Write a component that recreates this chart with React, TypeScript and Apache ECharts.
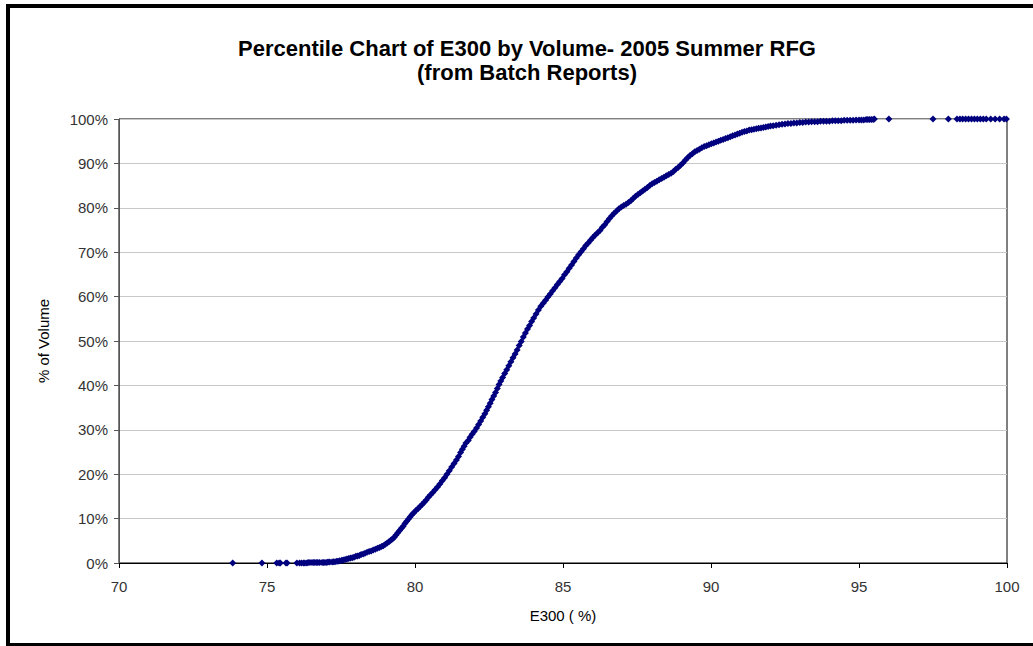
import React, { useEffect, useRef } from "react";
import * as echarts from "echarts";

const titleLines = ["Percentile Chart of E300 by Volume- 2005 Summer RFG", "(from Batch Reports)"];
const xAxisName = "E300 ( %)";
const yAxisName = "% of Volume";

// Lower tail: [E300, % of volume]
const lowTail: [number, number][] = [
  [73.84, 0], [74.83, 0], [75.33, 0], [75.41, 0], [75.45, 0], [75.64, 0], [75.68, 0],
  [76.01, 0], [76.1, 0], [76.17, 0], [76.24, 0], [76.28, 0], [76.35, 0], [76.39, 0.1],
  [76.45, 0.1], [76.52, 0.1], [76.58, 0.1], [76.62, 0.1], [76.68, 0.1], [76.72, 0.1],
  [76.78, 0.1], [76.86, 0.1], [76.91, 0.1], [76.96, 0.1], [77.02, 0.1], [77.06, 0.2],
  [77.12, 0.2], [77.2, 0.2], [77.25, 0.3], [77.3, 0.3], [77.36, 0.4], [77.4, 0.4],
  [77.46, 0.5], [77.53, 0.6], [77.58, 0.7], [77.64, 0.8], [77.7, 0.9], [77.76, 1.0],
  [77.82, 1.1], [77.88, 1.2], [77.94, 1.3], [78.0, 1.5], [78.06, 1.6], [78.12, 1.7],
  [78.18, 1.9], [78.25, 2.0], [78.31, 2.2], [78.38, 2.4], [78.45, 2.6], [78.52, 2.7],
  [78.59, 2.9], [78.66, 3.1], [78.73, 3.3], [78.8, 3.5], [78.87, 3.7], [78.93, 3.9],
  [79.0, 4.2], [79.06, 4.5], [79.12, 4.8], [79.18, 5.1], [79.24, 5.4], [79.3, 5.8],
  [79.36, 6.3], [79.42, 6.8], [79.48, 7.3], [79.54, 7.8], [79.6, 8.3], [79.66, 8.9],
  [79.72, 9.4], [79.78, 9.9], [79.84, 10.4], [79.9, 10.9], [79.96, 11.3], [80.03, 11.8],
  [80.1, 12.2], [80.17, 12.7], [80.24, 13.2], [80.31, 13.7], [80.38, 14.2], [80.45, 14.8],
  [80.52, 15.3], [80.6, 15.9], [80.68, 16.5], [80.76, 17.1], [80.84, 17.8], [80.92, 18.5],
];

// Steep middle section
const rise: [number, number][] = [
  [81.0, 19.2], [81.08, 20.0], [81.16, 20.8], [81.24, 21.6], [81.32, 22.4], [81.4, 23.2],
  [81.47, 24.0], [81.54, 24.9], [81.6, 25.6], [81.66, 26.3], [81.72, 27.0], [81.8, 27.6],
  [81.86, 28.3], [81.93, 29.0], [82.0, 29.6], [82.08, 30.4], [82.15, 31.2], [82.22, 32.0],
  [82.29, 32.8], [82.36, 33.6], [82.42, 34.4], [82.48, 35.2], [82.54, 36.0], [82.6, 36.8],
  [82.66, 37.6], [82.72, 38.4], [82.78, 39.3], [82.84, 40.2], [82.9, 41.0], [82.96, 41.8],
  [83.03, 42.7], [83.1, 43.5], [83.17, 44.4], [83.24, 45.3], [83.31, 46.2], [83.38, 47.1],
  [83.45, 48.0], [83.52, 49.0], [83.59, 49.9], [83.66, 50.9], [83.73, 51.8], [83.8, 52.7],
  [83.87, 53.5], [83.94, 54.4], [84.01, 55.2], [84.09, 56.1], [84.17, 57.0], [84.25, 57.8],
  [84.33, 58.5], [84.41, 59.2], [84.49, 59.9], [84.57, 60.6], [84.65, 61.3], [84.73, 62.0],
  [84.81, 62.7], [84.89, 63.4], [84.97, 64.1], [85.05, 64.9], [85.13, 65.6], [85.21, 66.4],
  [85.29, 67.1], [85.37, 67.9], [85.45, 68.7], [85.53, 69.4], [85.61, 70.1], [85.69, 70.8],
  [85.77, 71.5], [85.85, 72.1], [85.93, 72.7], [86.01, 73.3], [86.09, 73.9], [86.17, 74.4],
  [86.25, 74.9], [86.33, 75.6], [86.41, 76.2], [86.49, 76.9], [86.57, 77.6], [86.65, 78.2],
  [86.73, 78.8], [86.81, 79.3], [86.89, 79.8], [86.97, 80.2],
];

// Upper bend
const upper: [number, number][] = [
  [87.05, 80.5], [87.13, 80.8], [87.21, 81.2], [87.29, 81.6], [87.37, 82.1], [87.45, 82.6],
  [87.53, 83.0], [87.61, 83.4], [87.69, 83.8], [87.77, 84.2], [87.85, 84.6], [87.93, 85.0],
  [88.01, 85.4], [88.09, 85.7], [88.17, 86.0], [88.25, 86.3], [88.33, 86.6], [88.41, 86.9],
  [88.49, 87.2], [88.57, 87.5], [88.65, 87.8], [88.73, 88.2], [88.81, 88.7], [88.89, 89.1],
  [88.97, 89.6], [89.05, 90.1], [89.13, 90.7], [89.21, 91.3], [89.29, 91.8], [89.37, 92.2],
  [89.45, 92.6], [89.53, 92.9], [89.61, 93.2], [89.69, 93.5], [89.77, 93.8], [89.85, 94.0],
  [89.93, 94.2], [90.01, 94.4], [90.09, 94.6], [90.17, 94.8], [90.25, 95.0], [90.33, 95.2],
  [90.41, 95.4], [90.49, 95.6], [90.57, 95.8], [90.65, 96.0], [90.73, 96.2], [90.81, 96.4],
  [90.89, 96.6], [90.97, 96.8], [91.05, 97.0], [91.13, 97.2], [91.21, 97.3], [91.29, 97.5],
  [91.37, 97.6], [91.45, 97.7], [91.53, 97.8], [91.61, 97.9], [91.69, 98.0], [91.77, 98.1],
  [91.85, 98.2], [91.93, 98.3], [92.01, 98.4], [92.1, 98.5], [92.2, 98.6], [92.3, 98.7],
  [92.4, 98.8], [92.5, 98.9], [92.6, 99.0], [92.7, 99.0], [92.8, 99.1], [92.9, 99.1],
  [93.0, 99.2], [93.1, 99.2], [93.2, 99.3], [93.3, 99.3], [93.4, 99.4], [93.5, 99.4],
  [93.6, 99.4], [93.7, 99.5], [93.8, 99.5], [93.9, 99.5], [94.0, 99.5], [94.1, 99.6],
  [94.2, 99.6], [94.3, 99.6], [94.4, 99.6], [94.5, 99.7], [94.6, 99.7], [94.7, 99.7],
  [94.8, 99.7], [94.9, 99.8], [95.0, 99.8], [95.08, 99.8], [95.16, 99.8], [95.24, 99.9],
  [95.3, 99.9], [95.36, 99.9], [95.42, 99.9], [95.48, 99.9], [95.52, 100],
];

// Upper tail
const topTail: [number, number][] = [
  [96.01, 100], [97.5, 100], [98.02, 100], [98.31, 100], [98.41, 100], [98.5, 100],
  [98.6, 100], [98.7, 100], [98.8, 100], [98.9, 100], [99.0, 100], [99.1, 100],
  [99.2, 100], [99.3, 100], [99.45, 100], [99.6, 100], [99.75, 100], [99.9, 100], [99.98, 100],
];

const xMin = 70;
const xMax = 100;
const xStep = 5;
const yMin = 0;
const yMax = 100;
const yStep = 10;

export default function App() {
  const ref = useRef<HTMLDivElement>(null);
  useEffect(() => {
    document.body.style.margin = "0";
    const chart = echarts.init(ref.current!, null, { renderer: "svg" });
    const font = "'Liberation Sans', Arial, sans-serif";
    const data = [...lowTail, ...rise, ...upper, ...topTail];
    chart.setOption({
      animation: false,
      backgroundColor: "#ffffff",
      textStyle: { fontFamily: font },
      title: {
        text: titleLines.join("\n"),
        left: 522,
        top: 31,
        textAlign: "center",
        textStyle: { fontFamily: font, fontSize: 22, fontWeight: "bold", color: "#000", lineHeight: 24 },
      },
      graphic: [
        {
          type: "rect",
          shape: { x: 8, y: 6, width: 1040, height: 639 },
          style: { fill: "none", stroke: "#000", lineWidth: 4 },
          silent: true,
        },
      ],
      grid: { left: 119, right: 26, top: 119, bottom: 83, show: true, borderColor: "#000", borderWidth: 1, backgroundColor: "transparent" },
      xAxis: {
        type: "value",
        min: xMin,
        max: xMax,
        interval: xStep,
        name: xAxisName,
        nameLocation: "middle",
        nameGap: 45,
        nameTextStyle: { fontFamily: font, fontSize: 15, color: "#000" },
        axisLine: { show: true, lineStyle: { color: "#000", width: 1 } },
        axisTick: { show: true, length: 5, lineStyle: { color: "#000" } },
        axisLabel: { fontFamily: font, fontSize: 15, color: "#333", margin: 16 },
        splitLine: { show: false },
      },
      yAxis: {
        type: "value",
        min: yMin,
        max: yMax,
        interval: yStep,
        name: yAxisName,
        nameLocation: "middle",
        nameGap: 68,
        nameTextStyle: { fontFamily: font, fontSize: 15, color: "#000" },
        axisLine: { show: true, lineStyle: { color: "#555", width: 1 } },
        axisTick: { show: true, length: 5, lineStyle: { color: "#555" } },
        axisLabel: { fontFamily: font, fontSize: 15, color: "#333", margin: 11, formatter: (v: number) => v + "%" },
        splitLine: { show: true, lineStyle: { color: "#c8c8c8", width: 1 } },
      },
      series: [
        {
          type: "scatter",
          data,
          symbol: "diamond",
          symbolSize: 7,
          itemStyle: { color: "#00007f", opacity: 1 },
          z: 5,
        },
      ],
    });
    return () => chart.dispose();
  }, []);
  return <div ref={ref} style={{ position: "fixed", left: 0, top: 0, width: 1033, height: 646 }} />;
}
